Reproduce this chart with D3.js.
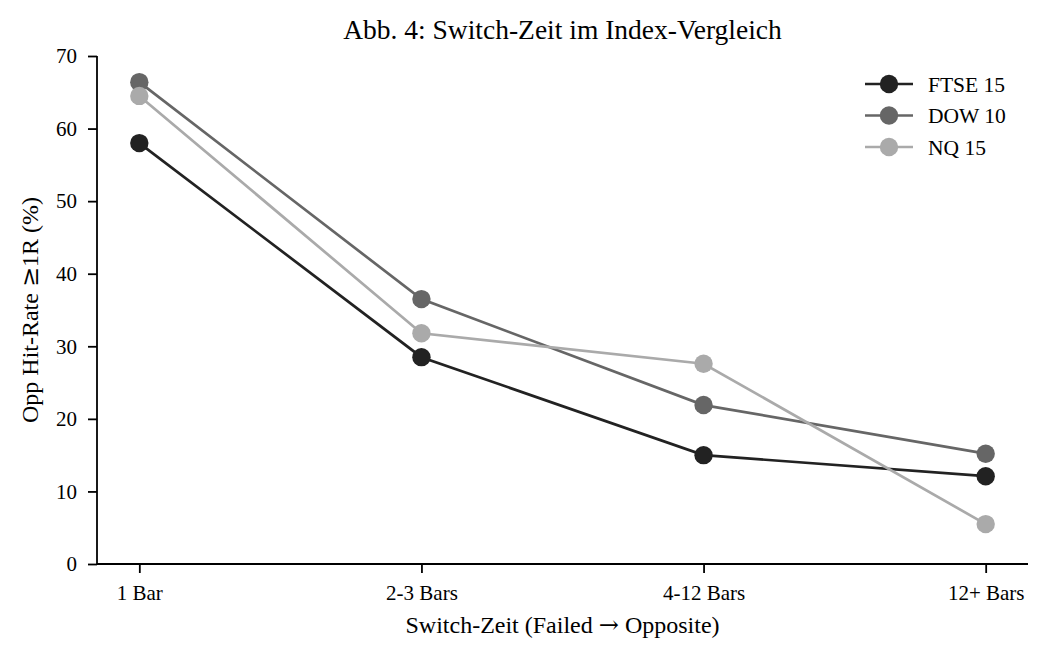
<!DOCTYPE html>
<html>
<head>
<meta charset="utf-8">
<script src="https://cdn.jsdelivr.net/npm/d3@7"></script>
<style>
  body { margin: 0; background: #fff; }
  svg text { font-family: "Liberation Serif", "Times New Roman", serif; fill: #000; }
  .sym { font-family: "DejaVu Serif", serif; }
</style>
</head>
<body>
<svg id="chart"></svg>
<script>
// categories and series values (Opp hit-rate >= 1R, %)
const categories = ["1 Bar", "2-3 Bars", "4-12 Bars", "12+ Bars"];
const ftse = [58.0, 28.5, 15.0, 12.1];
const dow = [66.4, 36.5, 21.9, 15.2];
const nq = [64.5, 31.8, 27.6, 5.5];
const yTicks = [0, 10, 20, 30, 40, 50, 60, 70];

const series = [
    {name: "FTSE 15", values: ftse, color: "#222222"},
    {name: "DOW 10", values: dow, color: "#666666"},
    {name: "NQ 15", values: nq, color: "#aaaaaa"}
];

const W = 1046, H = 659;
const margin = {top: 56, right: 18, bottom: 95, left: 97};
const width = W - margin.left - margin.right;
const height = H - margin.top - margin.bottom;

const svg = d3.select("#chart")
    .attr("width", W)
    .attr("height", H);

const g = svg.append("g")
    .attr("transform", "translate(" + margin.left + "," + margin.top + ")");

// matplotlib-like padding around the category positions
const x = d3.scaleLinear()
    .domain([-0.15, categories.length - 1 + 0.15])
    .range([0, width]);

const y = d3.scaleLinear()
    .domain([0, 70])
    .range([height, 0]);

const xAxis = d3.axisBottom(x)
    .tickValues(d3.range(categories.length))
    .tickFormat(i => categories[i])
    .tickSize(9)
    .tickPadding(12);

const yAxis = d3.axisLeft(y)
    .tickValues(yTicks)
    .tickSize(9)
    .tickPadding(11);

const xg = g.append("g")
    .attr("transform", "translate(0," + height + ")")
    .call(xAxis);
xg.select(".domain").attr("d", "M0,0H" + width);

const yg = g.append("g").call(yAxis);
yg.select(".domain").attr("d", "M0," + height + "V0");

g.selectAll(".domain, .tick line")
    .attr("stroke", "#000")
    .attr("stroke-width", 1.8);
g.selectAll(".tick text")
    .style("font-size", "21px");

// lines and markers
const line = d3.line()
    .x((d, i) => x(i))
    .y(d => y(d));

series.forEach(s => {
    g.append("path")
        .datum(s.values)
        .attr("fill", "none")
        .attr("stroke", s.color)
        .attr("stroke-width", 2.7)
        .attr("d", line);

    g.selectAll(null)
        .data(s.values)
        .enter().append("circle")
        .attr("cx", (d, i) => x(i))
        .attr("cy", d => y(d))
        .attr("r", 9.2)
        .attr("fill", s.color);
});

// legend
const legend = g.append("g")
    .attr("transform", "translate(" + (width - 163) + ",28)");

series.forEach((s, i) => {
    const row = legend.append("g")
        .attr("transform", "translate(0," + (i * 31.5) + ")");
    row.append("line")
        .attr("x1", 0).attr("x2", 48)
        .attr("stroke", s.color)
        .attr("stroke-width", 2.7);
    row.append("circle")
        .attr("cx", 24)
        .attr("r", 9.2)
        .attr("fill", s.color);
    row.append("text")
        .attr("x", 63)
        .attr("dy", "0.35em")
        .style("font-size", "21.5px")
        .text(s.name);
});

// titles
svg.append("text")
    .attr("x", margin.left + width / 2)
    .attr("y", 39)
    .attr("text-anchor", "middle")
    .style("font-size", "27.5px")
    .text("Abb. 4: Switch-Zeit im Index-Vergleich");

const xLabel = svg.append("text")
    .attr("x", margin.left + width / 2)
    .attr("y", 633)
    .attr("text-anchor", "middle")
    .style("font-size", "24px");
xLabel.append("tspan").text("Switch-Zeit (Failed ");
xLabel.append("tspan").attr("class", "sym").text("\u2192");
xLabel.append("tspan").text(" Opposite)");

const yLabel = svg.append("text")
    .attr("transform", "translate(38," + (margin.top + height / 2) + ") rotate(-90)")
    .attr("text-anchor", "middle")
    .style("font-size", "24px");
yLabel.append("tspan").text("Opp Hit-Rate ");
yLabel.append("tspan").attr("class", "sym").text("\u2265");
yLabel.append("tspan").text("1R (%)");
</script>
</body>
</html>
